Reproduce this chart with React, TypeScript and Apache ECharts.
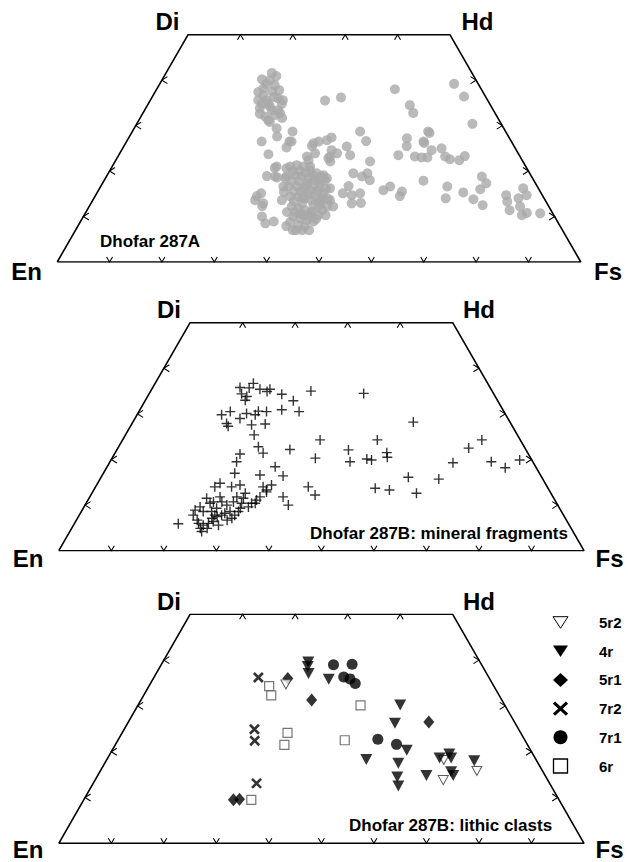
import React, { useEffect, useRef } from "react";
import * as echarts from "echarts";

// Pyroxene compositions as [Fs, Wo] in mol% (En = 100 - Fs - Wo)
const dhofar287A: number[][] = [
  [20.2, 41.6], [19.0, 40.2], [20.6, 40.0], [22.1, 38.9], [20.3, 38.2], [22.3, 37.5], [21.0, 36.7],
  [24.2, 36.0], [22.2, 35.6], [21.8, 33.8], [23.5, 34.2], [25.5, 33.4], [23.7, 32.0], [25.4, 32.3],
  [26.2, 32.7], [22.9, 34.9], [20.6, 35.6], [25.5, 34.8], [24.7, 31.2],
  [21.4, 40.9], [20.3, 39.2], [23.5, 37.8], [19.7, 37.4], [23.3, 36.3], [21.7, 34.8], [25.3, 35.6],
  [24.3, 33.4], [22.4, 32.6], [27.1, 31.7], [25.2, 30.8],
  [27.2, 29.4], [28.2, 27.6], [30.6, 28.7], [25.8, 26.5], [28.5, 23.7], [31.1, 26.5], [31.2, 25.2],
  [31.5, 26.5], [31.2, 20.7], [30.6, 18.9], [32.7, 18.6], [31.4, 15.1], [31.0, 13.6], [33.0, 12.3],
  [34.1, 10.0], [35.5, 8.5], [36.9, 8.9], [41.5, 7.0], [34.9, 16.6], [36.1, 13.6], [33.5, 20.6],
  [36.1, 23.2], [33.4, 35.5], [36.1, 36.2], [35.9, 25.5], [36.7, 26.5], [38.1, 26.8], [38.7, 27.4],
  [37.3, 23.9], [36.8, 22.4], [40.5, 23.2], [41.5, 23.9], [41.1, 22.1], [42.6, 25.4], [44.2, 23.5],
  [43.5, 28.7], [45.7, 26.6], [48.7, 22.1], [46.8, 19.5], [48.8, 18.8], [49.5, 19.5], [50.7, 18.0],
  [47.3, 16.7], [47.0, 15.1], [48.9, 14.7], [50.3, 15.1], [49.8, 12.9], [51.5, 13.0], [44.0, 16.2],
  [42.3, 18.4], [41.1, 18.8], [43.4, 13.6], [45.3, 13.6], [46.6, 12.2], [43.8, 12.2], [54.4, 15.8],
  [55.3, 16.6], [58.1, 15.5], [58.2, 14.5], [45.5, 38.0], [50.1, 34.5], [51.6, 32.8], [53.4, 23.5],
  [53.2, 27.2], [54.0, 25.5], [56.7, 26.5], [61.0, 17.9], [56.7, 23.2], [58.1, 23.0], [56.5, 28.7],
  [31.4, 21.0], [32.2, 18.8], [30.9, 14.5], [32.9, 12.9], [39.8, 7.9],
  [56.2, 39.2], [59.5, 36.4], [64.1, 30.4], [56.9, 28.4], [57.0, 26.2], [59.2, 24.6], [59.2, 23.0],
  [60.9, 25.0], [62.5, 23.2], [63.7, 22.6], [65.6, 22.4], [66.2, 23.3], [66.2, 16.6], [67.2, 14.0],
  [69.9, 15.3], [72.6, 13.8], [75.0, 12.5], [71.7, 18.8], [73.3, 17.3], [72.8, 16.0], [78.4, 14.7],
  [79.3, 13.3], [80.7, 11.4], [81.1, 14.0], [80.9, 16.2], [82.3, 14.7], [82.3, 12.2], [83.6, 10.3],
  [84.3, 10.8], [86.9, 10.7],
  [40.1, 24.6], [40.4, 22.8], [35.9, 26.1], [37.8, 21.0], [42.1, 18.0],
  [34.0, 21.0], [35.1, 21.3], [36.5, 21.0], [38.2, 20.2], [39.8, 19.5], [41.3, 19.1], [34.4, 18.8],
  [35.9, 19.1], [37.3, 18.8], [38.8, 18.4], [40.2, 18.0], [41.6, 17.3], [35.8, 16.6], [37.4, 16.7],
  [38.9, 16.2], [40.4, 15.8], [41.9, 15.5], [43.3, 15.1], [37.3, 14.4], [38.9, 14.4], [40.3, 14.0],
  [41.8, 13.6], [43.8, 12.9], [45.4, 12.2], [38.7, 12.2], [40.2, 11.8], [41.6, 11.4], [43.1, 11.1],
  [44.7, 10.3], [40.1, 10.0], [41.6, 9.6], [43.1, 9.2], [44.5, 8.9], [42.0, 8.1], [43.4, 7.8],
  [43.0, 10.7], [40.3, 12.9], [39.1, 17.3], [41.1, 10.7],
  [35.0, 20.0], [36.4, 20.0], [37.7, 19.6], [39.5, 18.9], [40.9, 18.3], [35.9, 17.8], [37.3, 17.8],
  [39.2, 16.7], [40.5, 16.9], [41.9, 16.3], [43.3, 16.1], [37.4, 15.6], [38.9, 15.4], [40.4, 15.0],
  [41.9, 14.5], [43.6, 14.1], [38.5, 13.4], [39.8, 14.1], [38.4, 11.0], [39.9, 11.0], [41.8, 10.3],
  [43.2, 9.9], [44.7, 9.5], [43.3, 7.0], [44.6, 7.0], [42.1, 7.0], [40.1, 8.8], [44.9, 11.4],
  [44.8, 13.9], [35.6, 15.4], [34.3, 18.5], [42.7, 12.5], [46.1, 10.3],
];

const mineralFragments: number[][] = [
  [16.6, 35.8], [18.7, 36.7], [20.6, 35.4], [22.5, 35.4], [22.2, 34.9], [17.6, 34.4], [18.9, 33.8],
  [19.0, 33.0], [25.3, 34.3], [28.2, 32.9], [30.5, 35.0], [16.1, 29.8], [17.4, 30.5], [18.0, 27.9],
  [18.6, 27.3], [20.0, 29.0], [20.7, 30.1], [22.5, 29.8], [22.7, 30.6], [24.3, 30.5], [22.9, 27.6],
  [25.4, 27.8], [27.0, 30.9], [30.5, 30.5], [24.5, 25.4], [26.6, 22.8], [28.2, 21.4], [23.9, 21.2],
  [24.1, 19.5], [25.0, 17.0], [23.3, 14.8], [22.7, 14.0], [25.9, 14.0], [27.3, 14.4], [30.0, 16.6],
  [32.0, 18.4], [34.5, 16.4], [32.9, 22.2], [38.7, 20.3], [37.6, 24.3], [44.1, 22.1], [45.7, 19.5],
  [33.3, 14.4], [33.1, 12.9], [40.5, 14.0], [42.7, 12.2], [36.8, 11.8], [38.7, 10.0], [32.4, 11.8],
  [32.2, 10.4], [19.8, 5.9], [32.9, 13.3], [29.2, 12.6], [29.4, 11.5], [29.6, 10.4], [29.9, 9.3],
  [29.9, 8.6], [29.6, 7.8], [29.4, 7.1], [28.7, 6.7], [32.1, 11.1], [31.5, 10.4], [31.3, 9.6],
  [22.4, 11.5], [23.6, 10.4], [22.1, 9.6], [21.5, 8.9], [23.2, 8.6], [24.8, 8.6], [25.4, 9.3],
  [25.7, 10.7], [27.0, 10.0], [27.1, 7.8], [26.4, 7.5], [26.2, 6.4], [25.5, 6.0], [24.7, 5.6],
  [24.5, 4.9], [25.1, 4.2], [23.0, 6.7], [21.7, 7.8], [23.6, 6.0], [25.8, 4.9], [25.6, 7.1],
  [27.6, 5.6], [25.8, 7.8], [28.3, 8.6], [27.5, 8.2], [24.8, 11.8], [24.1, 10.7], [28.0, 11.8],
  [27.9, 10.7], [31.9, 14.0], [40.8, 34.5], [53.4, 28.2], [48.5, 24.3], [48.6, 20.1], [49.6, 19.9],
  [51.7, 21.5], [52.3, 20.5], [58.5, 16.1], [61.8, 12.6], [53.4, 13.7], [56.3, 13.3], [64.5, 15.7],
  [65.4, 19.3], [66.8, 22.5], [68.4, 24.3], [72.6, 19.5], [75.9, 18.2], [77.8, 19.9], [18.4, 35.7],
];

// Lithic clasts, by clast
const clast5r2: number[][] = [[25.9, 34.7], [64.2, 18.2], [66.3, 13.8], [71.7, 15.8]];
const clast4r: number[][] = [
  [27.7, 39.6], [28.1, 38.6], [29.0, 37.1], [33.5, 35.8], [49.9, 30.2], [50.9, 26.2], [56.1, 20.3],
  [49.4, 18.3], [55.9, 17.5], [57.2, 14.5], [58.4, 12.5], [62.6, 14.8], [63.2, 18.6], [64.6, 19.5],
  [65.4, 18.6], [67.7, 14.8], [66.9, 15.6], [70.1, 18.0],
];
const clast5r1: number[][] = [[25.6, 36.0], [32.5, 31.3], [57.2, 26.5], [28.5, 9.5], [29.6, 9.6]];
const clast7r2: number[][] = [[19.9, 36.2], [24.8, 24.9], [26.1, 22.4], [31.1, 13.1]];
const clast7r1: number[][] = [
  [32.8, 39.0], [36.3, 39.1], [36.1, 36.3], [37.5, 35.9], [39.0, 34.9], [49.4, 22.7], [53.5, 21.6],
];
const clast6r: number[][] = [
  [22.9, 34.3], [24.3, 32.3], [42.4, 30.1], [31.5, 24.1], [32.2, 21.5], [43.2, 22.5], [31.9, 9.5],
];

// Quadrilateral corners [Fs, Wo]: En, Di, Hd, Fs
const cornerNames = ["En", "Di", "Hd", "Fs"];
const corners: number[][] = [[0, 0], [0, 50], [50, 50], [100, 0]];

// Tick marks, every 10 mol%
const baseTicks = [10, 20, 30, 40, 50, 60, 70, 80, 90]; // Fs along En–Fs
const topTicks = [10, 20, 30, 40]; // Fs along Di–Hd
const sideTicks = [10, 20, 30, 40]; // Wo along both sides

const panelTitles = ["Dhofar 287A", "Dhofar 287B: mineral fragments", "Dhofar 287B: lithic clasts"];
const legendOrder = ["5r2", "4r", "5r1", "7r2", "7r1", "6r"];

// ternary projection: horizontal = Fs + Wo/2, vertical = Wo
const proj = (p: number[]) => [p[0] + p[1] / 2, p[1]];

const grids = [
  { left: 57.2, top: 34.7, width: 523.6, height: 227.3 },
  { left: 58.8, top: 322.7, width: 525.2, height: 228 },
  { left: 58.8, top: 614.3, width: 525.2, height: 229 },
];

const triDown = "path://M0,0L10,0L5,9Z";
const plusPath = "path://M5,0L5,10M0,5L10,5";
const crossPath = "path://M0,0L10,10M10,0L0,10";
const diamondPath = "path://M5,0L10,6.5L5,13L0,6.5Z";
const squarePath = "path://M0,0L10,0L10,10L0,10Z";

function tickData() {
  const d: number[][] = [];
  baseTicks.forEach((f) => d.push([...proj([f, 0]), 0]));
  topTicks.forEach((f) => d.push([...proj([f, 50]), 1]));
  sideTicks.forEach((w) => d.push([...proj([0, w]), 2]));
  sideTicks.forEach((w) => d.push([...proj([100 - w, w]), 3]));
  return d;
}

// key symbol drawn with graphic shapes, centred on (cx, cy), about 15 px across
function keySymbol(name: string, cx: number, cy: number): any[] {
  const h = 7.5;
  switch (name) {
    case "5r2":
      return [{ type: "polygon", shape: { points: [[cx - h, cy - 5.8], [cx + h, cy - 5.8], [cx, cy + 5.8]] }, style: { fill: "#fff", stroke: "#000", lineWidth: 1 } }];
    case "4r":
      return [{ type: "polygon", shape: { points: [[cx - h, cy - 5.8], [cx + h, cy - 5.8], [cx, cy + 5.8]] }, style: { fill: "#000" } }];
    case "5r1":
      return [{ type: "polygon", shape: { points: [[cx, cy - 7], [cx + h, cy], [cx, cy + 7], [cx - h, cy]] }, style: { fill: "#000" } }];
    case "7r2":
      return [
        { type: "line", shape: { x1: cx - 6.5, y1: cy - 6, x2: cx + 6.5, y2: cy + 6 }, style: { stroke: "#000", lineWidth: 3.2 } },
        { type: "line", shape: { x1: cx + 6.5, y1: cy - 6, x2: cx - 6.5, y2: cy + 6 }, style: { stroke: "#000", lineWidth: 3.2 } },
      ];
    case "7r1":
      return [{ type: "circle", shape: { cx, cy, r: 7 }, style: { fill: "#000" } }];
    default:
      return [{ type: "rect", shape: { x: cx - 7, y: cy - 7, width: 14, height: 14 }, style: { fill: "#fff", stroke: "#000", lineWidth: 1.3 } }];
  }
}

export default function App() {
  const ref = useRef<HTMLDivElement>(null);

  useEffect(() => {
    if (!ref.current) return;
    const chart = echarts.init(ref.current, null, { renderer: "svg" });
    const font = '"Liberation Sans", Arial, sans-serif';

    const series: any[] = [];
    grids.forEach((_, i) => {
      // outline En -> Di -> Hd -> Fs -> En
      series.push({
        type: "line",
        xAxisIndex: i,
        yAxisIndex: i,
        data: [0, 1, 2, 3, 0].map((k) => proj(corners[k])),
        symbol: "none",
        silent: true,
        lineStyle: { color: "#000", width: 1.6 },
        z: 3,
      });
      // arrow-head ticks sitting inside each edge
      series.push({
        type: "custom",
        xAxisIndex: i,
        yAxisIndex: i,
        silent: true,
        data: tickData(),
        encode: { x: 0, y: 1 },
        renderItem: (_p: any, api: any) => {
          const c = api.coord([api.value(0), api.value(1)]);
          const dir = api.value(2);
          const x = c[0];
          const y = c[1];
          let pts: number[][];
          if (dir === 0) pts = [[x - 3, y - 5], [x, y], [x + 3, y - 5]];
          else if (dir === 1) pts = [[x - 3, y + 5], [x, y], [x + 3, y + 5]];
          else if (dir === 2) pts = [[x + 5.5, y - 3.5], [x, y], [x + 5.5, y + 3.5]];
          else pts = [[x - 5.5, y - 3.5], [x, y], [x - 5.5, y + 3.5]];
          return {
            type: "polyline",
            shape: { points: pts },
            style: { stroke: "#000", fill: "none", lineWidth: 1.1 },
          };
        },
        z: 3,
      });
    });

    series.push({
      type: "scatter",
      name: "287A",
      xAxisIndex: 0,
      yAxisIndex: 0,
      data: dhofar287A.map(proj),
      symbol: "circle",
      symbolSize: 10,
      itemStyle: { color: "#a9a9a9" },
      z: 2,
    });
    series.push({
      type: "scatter",
      name: "fragments",
      xAxisIndex: 1,
      yAxisIndex: 1,
      data: mineralFragments.map(proj),
      symbol: plusPath,
      symbolSize: 10,
      itemStyle: { color: "none", borderColor: "#000", borderWidth: 1.4 },
      z: 2,
    });

    const clasts = [
      { name: "6r", data: clast6r, symbol: squarePath, size: [9, 9], style: { color: "#fff", borderColor: "#555", borderWidth: 1.2 } },
      { name: "7r2", data: clast7r2, symbol: crossPath, size: [9, 9], style: { color: "none", borderColor: "#000", borderWidth: 2.6 } },
      { name: "5r1", data: clast5r1, symbol: diamondPath, size: [11, 13], style: { color: "#000" } },
      { name: "7r1", data: clast7r1, symbol: "circle", size: 11, style: { color: "#000" } },
      { name: "5r2", data: clast5r2, symbol: triDown, size: [10, 9], style: { color: "#fff", borderColor: "#333", borderWidth: 1 } },
      { name: "4r", data: clast4r, symbol: triDown, size: [12, 11], style: { color: "#000" } },
    ];
    clasts.forEach((c) => {
      series.push({
        type: "scatter",
        name: c.name,
        xAxisIndex: 2,
        yAxisIndex: 2,
        data: c.data.map(proj),
        symbol: c.symbol,
        symbolSize: c.size,
        itemStyle: c.style,
        z: 2,
      });
    });

    const graphic: any[] = [];
    const labelPos = [
      { y1: 21.7, y2: 271.7, dx: 0 },
      { y1: 309, y2: 558, dx: 1.5 },
      { y1: 601, y2: 849.5, dx: 1.5 },
    ];
    labelPos.forEach((lp) => {
      const xs = [26.5, 167.5, 477.5, 608];
      const ys = [lp.y2, lp.y1, lp.y1, lp.y2];
      cornerNames.forEach((nm, k) => {
        graphic.push({
          type: "text",
          x: xs[k] + lp.dx,
          y: ys[k],
          silent: true,
          style: {
            text: nm,
            font: `bold 24px ${font}`,
            fill: "#000",
            textAlign: "center",
            textVerticalAlign: "middle",
            verticalAlign: "middle",
          },
        });
      });
    });
    const titlePos = [
      { x: 100, y: 241 },
      { x: 310, y: 533 },
      { x: 349, y: 825.5 },
    ];
    panelTitles.forEach((t, i) => {
      graphic.push({
        type: "text",
        x: titlePos[i].x,
        y: titlePos[i].y,
        silent: true,
        style: {
          text: t,
          font: `bold 17px ${font}`,
          fill: "#000",
          textAlign: "left",
          textVerticalAlign: "middle",
          verticalAlign: "middle",
        },
      });
    });

    // key for the lithic clasts
    legendOrder.forEach((nm, k) => {
      const cy = 622.5 + k * 28.7;
      keySymbol(nm, 560.5, cy).forEach((el) => graphic.push({ ...el, silent: true }));
      graphic.push({
        type: "text",
        x: 599,
        y: cy,
        silent: true,
        style: {
          text: nm,
          font: `bold 15px ${font}`,
          fill: "#000",
          textAlign: "left",
          textVerticalAlign: "middle",
          verticalAlign: "middle",
        },
      });
    });

    chart.setOption({
      animation: false,
      backgroundColor: "#fff",
      grid: grids.map((g) => ({ ...g, containLabel: false })),
      xAxis: grids.map((_, i) => ({ gridIndex: i, type: "value", min: 0, max: 100, show: false })),
      yAxis: grids.map((_, i) => ({ gridIndex: i, type: "value", min: 0, max: 50, show: false })),
      series,
      graphic,
    });

    return () => chart.dispose();
  }, []);

  return (
    <div
      ref={ref}
      style={{ position: "absolute", left: 0, top: 0, width: 628, height: 862 }}
    />
  );
}
